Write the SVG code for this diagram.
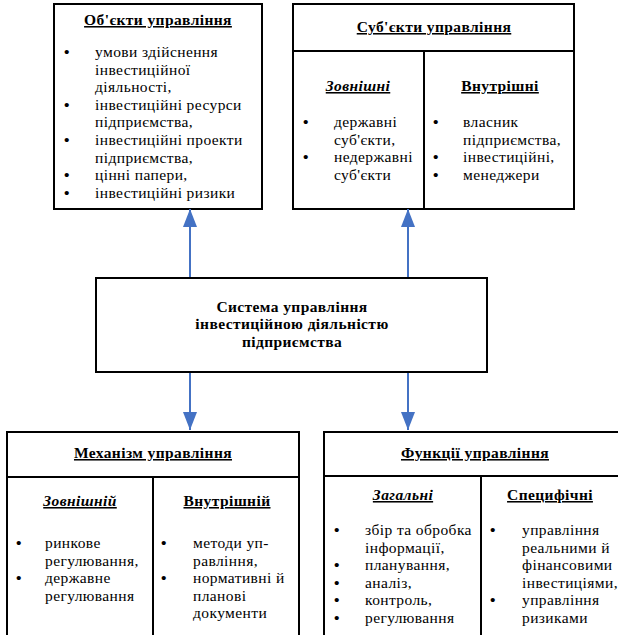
<svg xmlns="http://www.w3.org/2000/svg" width="618" height="635" viewBox="0 0 618 635">
<defs>
<style>
text{font-family:"Liberation Serif","DejaVu Serif",serif;font-size:15.5px;letter-spacing:0.4px;fill:#000}
.b{font-weight:bold;letter-spacing:0}
.h{font-weight:bold;text-anchor:middle;text-decoration:underline}
.hi{font-weight:bold;font-style:italic;text-anchor:middle;text-decoration:underline}
.c{font-weight:bold;text-anchor:middle}
.box{fill:#fff;stroke:#000;stroke-width:2}
.ln{stroke:#000;stroke-width:2;fill:none}
.arr{stroke:#4472C4;stroke-width:2;fill:none}
</style>
<marker id="ah" viewBox="0 0 18 14" refX="18" refY="7" markerWidth="18" markerHeight="14" markerUnits="userSpaceOnUse" orient="auto">
<path d="M0,0 L18,7 L0,14 Z" fill="#4472C4"/>
</marker>
</defs>
<rect width="618" height="635" fill="#fff"/>

<g id="objects">
<rect class="box" x="54" y="4" width="208" height="205"/>
<text class="h" x="158" y="25">Об'єкти управління</text>
<text class="b" x="64" y="57">•</text><text x="95" y="57">умови здійснення</text>
<text x="95" y="74.6">інвестиційної</text>
<text x="95" y="92.2">діяльності,</text>
<text class="b" x="64" y="109.8">•</text><text x="95" y="109.8">інвестиційні ресурси</text>
<text x="95" y="127.4">підприємства,</text>
<text class="b" x="64" y="145">•</text><text x="95" y="145">інвестиційні проекти</text>
<text x="95" y="162.6">підприємства,</text>
<text class="b" x="64" y="180.2">•</text><text x="95" y="180.2">цінні папери,</text>
<text class="b" x="64" y="197.8">•</text><text x="95" y="197.8">інвестиційні ризики</text>
</g>

<g id="subjects">
<rect class="box" x="293" y="4" width="281" height="205"/>
<line class="ln" x1="293" y1="51" x2="574" y2="51"/>
<line class="ln" x1="424" y1="51" x2="424" y2="209"/>
<text class="h" x="434" y="32">Суб'єкти управління</text>
<text class="hi" x="358" y="91">Зовнішні</text>
<text class="h" x="500" y="91">Внутрішні</text>
<text class="b" x="303" y="127">•</text><text x="334" y="127">державні</text>
<text x="334" y="144.5">суб'єкти,</text>
<text class="b" x="303" y="162">•</text><text x="334" y="162">недержавні</text>
<text x="334" y="179.5">суб'єкти</text>
<text class="b" x="433" y="127">•</text><text x="463" y="127">власник</text>
<text x="463" y="144.5">підприємства,</text>
<text class="b" x="433" y="162">•</text><text x="463" y="162">інвестиційні,</text>
<text class="b" x="433" y="179.5">•</text><text x="463" y="179.5">менеджери</text>
</g>

<g id="system">
<rect class="box" x="96" y="278" width="391" height="94"/>
<text class="c" x="292" y="311.5">Система управління</text>
<text class="c" x="292" y="329">інвестиційною діяльністю</text>
<text class="c" x="292" y="346.5">підприємства</text>
</g>

<g id="mechanism">
<rect class="box" x="7" y="432" width="292" height="210"/>
<line class="ln" x1="7" y1="477" x2="299" y2="477"/>
<line class="ln" x1="153" y1="477" x2="153" y2="640"/>
<text class="h" x="153" y="458">Механізм управління</text>
<text class="hi" x="80" y="506">Зовнішній</text>
<text class="h" x="227" y="506">Внутрішній</text>
<text class="b" x="16" y="548">•</text><text x="45" y="548">ринкове</text>
<text x="45" y="565.5">регулювання,</text>
<text class="b" x="16" y="583">•</text><text x="45" y="583">державне</text>
<text x="45" y="600.5">регулювання</text>
<text class="b" x="161" y="548">•</text><text x="193" y="548">методи уп-</text>
<text x="193" y="565.5">равління,</text>
<text class="b" x="161" y="583">•</text><text x="193" y="583">нормативні й</text>
<text x="193" y="600.5">планові</text>
<text x="193" y="618">документи</text>
</g>

<g id="functions">
<rect class="box" x="324" y="432" width="310" height="210"/>
<line class="ln" x1="324" y1="476" x2="634" y2="476"/>
<line class="ln" x1="481" y1="476" x2="481" y2="640"/>
<text class="h" x="475" y="458">Функції управління</text>
<text class="hi" x="403" y="500">Загальні</text>
<text class="h" x="550" y="500">Специфічні</text>
<text class="b" x="334" y="535">•</text><text x="365" y="535">збір та обробка</text>
<text x="365" y="552.5">інформації,</text>
<text class="b" x="334" y="570">•</text><text x="365" y="570">планування,</text>
<text class="b" x="334" y="587.5">•</text><text x="365" y="587.5">аналіз,</text>
<text class="b" x="334" y="605">•</text><text x="365" y="605">контроль,</text>
<text class="b" x="334" y="622.5">•</text><text x="365" y="622.5">регулювання</text>
<text class="b" x="490" y="535">•</text><text x="522" y="535">управління</text>
<text x="522" y="552.5">реальними й</text>
<text x="522" y="570">фінансовими</text>
<text x="522" y="587.5">інвестиціями,</text>
<text class="b" x="490" y="605">•</text><text x="522" y="605">управління</text>
<text x="522" y="622.5">ризиками</text>
</g>

<g id="connectors">
<line class="arr" x1="190" y1="277" x2="190" y2="209" marker-end="url(#ah)"/>
<line class="arr" x1="408" y1="277" x2="408" y2="209" marker-end="url(#ah)"/>
<line class="arr" x1="190" y1="373" x2="190" y2="430" marker-end="url(#ah)"/>
<line class="arr" x1="408" y1="373" x2="408" y2="430" marker-end="url(#ah)"/>
</g>
</svg>
